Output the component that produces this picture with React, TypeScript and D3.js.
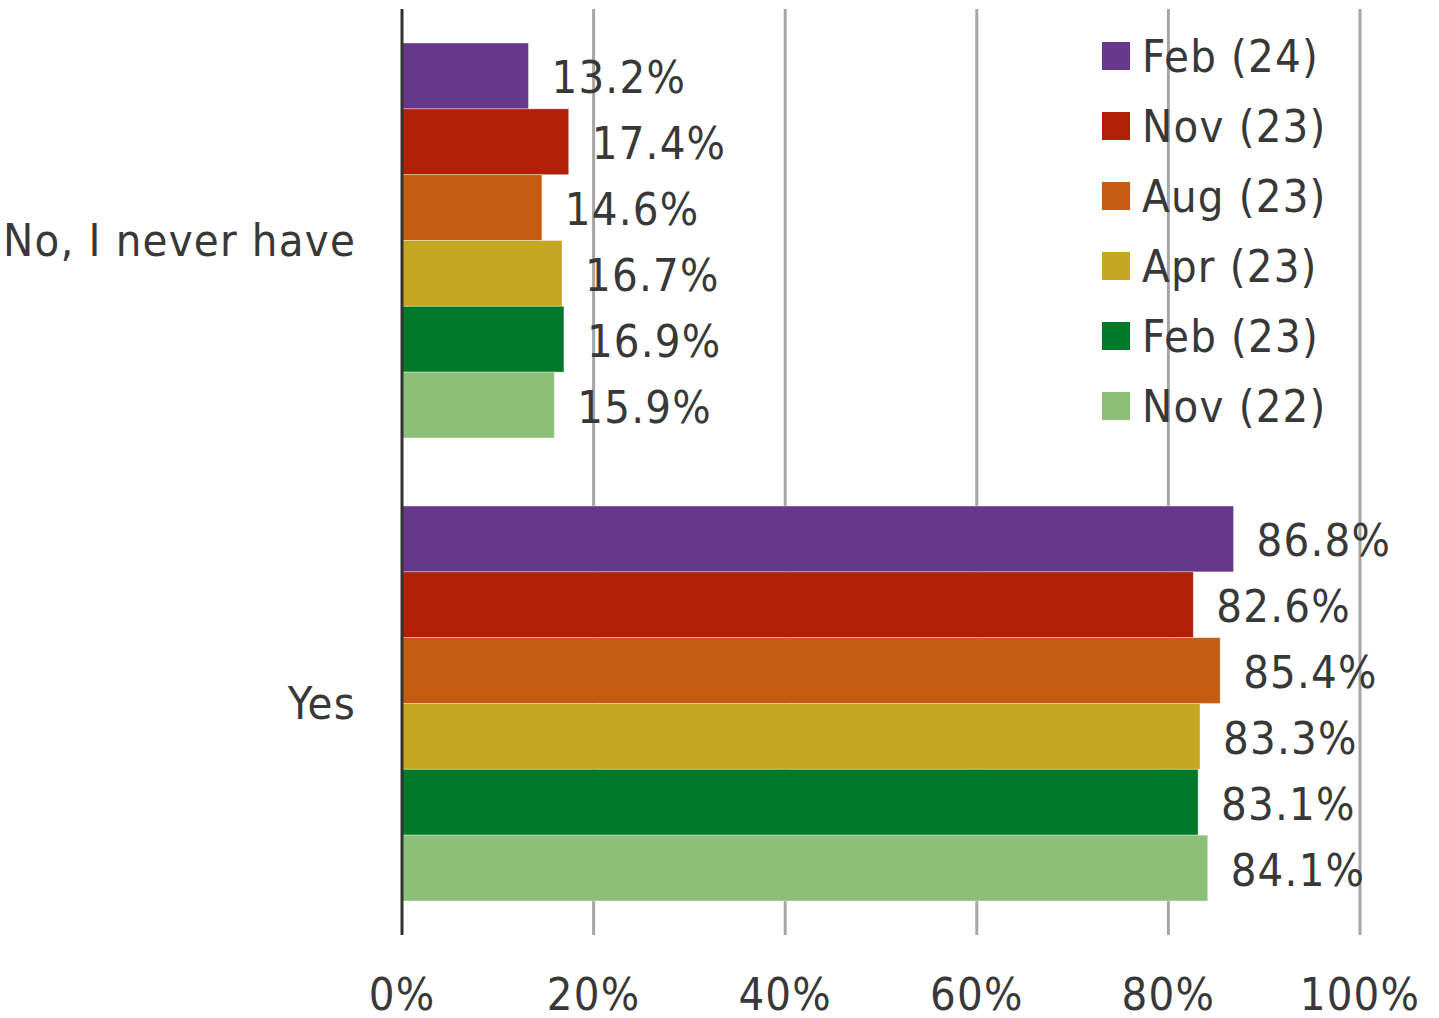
import React from "react";
import * as d3 from "d3";

const categories = ["No, I never have", "Yes"];
const seriesNames = ["Feb (24)", "Nov (23)", "Aug (23)", "Apr (23)", "Feb (23)", "Nov (22)"];
const seriesColors = ["#67378A", "#B01F06", "#C55A11", "#C4A622", "#00782A", "#8CBF78"];
const noValues = [13.2, 17.4, 14.6, 16.7, 16.9, 15.9];
const yesValues = [86.8, 82.6, 85.4, 83.3, 83.1, 84.1];
const xTicks = [0, 20, 40, 60, 80, 100];

const W = 1439;
const H = 1018;
const FONT = "'DejaVu Sans Condensed', 'DejaVu Sans', sans-serif";
const TEXT = "#383838";
const FS = 45;
const LS = 1.2;

export default function App() {
  const x = d3.scaleLinear().domain([0, 100]).range([402, 1360]);
  const y = d3
    .scaleBand<string>()
    .domain(categories)
    .range([9, 935])
    .paddingInner(0.147)
    .paddingOuter(0.0735);
  const inner = d3.scaleBand<string>().domain(seriesNames).range([0, y.bandwidth()]).padding(0);
  const valuesByCat: Record<string, number[]> = {
    [categories[0]]: noValues,
    [categories[1]]: yesValues,
  };
  const [top, bottom] = [9, 935];

  return (
    <svg
      width={W}
      height={H}
      style={{ position: "absolute", left: 0, top: 0, background: "#fff" }}
      fontFamily={FONT}
      letterSpacing={LS}
    >
      {xTicks.slice(1).map((t) => (
        <line key={t} x1={x(t)} x2={x(t)} y1={top} y2={bottom} stroke="#A6A6A6" strokeWidth={3} />
      ))}
      {categories.map((c) =>
        valuesByCat[c].map((v, i) => {
          const yy = (y(c) as number) + (inner(seriesNames[i]) as number);
          return (
            <g key={c + i}>
              <rect
                x={x(0)}
                y={yy}
                width={x(v) - x(0)}
                height={inner.bandwidth()}
                fill={seriesColors[i]}
                stroke="#ffffff"
                strokeOpacity={0.35}
                strokeWidth={1}
              />
              <text
                x={x(v) + 23}
                y={yy + inner.bandwidth() / 2 + 2}
                dominantBaseline="central"
                fontSize={FS}
                fill={TEXT}
              >
                {v.toFixed(1)}%
              </text>
            </g>
          );
        })
      )}
      <line x1={x(0)} x2={x(0)} y1={top} y2={bottom} stroke="#333" strokeWidth={3} />
      {categories.map((c) => (
        <text
          key={c}
          x={356}
          y={(y(c) as number) + y.bandwidth() / 2}
          textAnchor="end"
          dominantBaseline="central"
          fontSize={FS}
          fill={TEXT}
        >
          {c}
        </text>
      ))}
      {xTicks.map((t) => (
        <text key={t} x={x(t)} y={1010} textAnchor="middle" fontSize={FS} fill={TEXT}>
          {t}%
        </text>
      ))}
      {seriesNames.map((s, i) => (
        <g key={s} transform={`translate(1102, ${42 + i * 70})`}>
          <rect width={28} height={28} fill={seriesColors[i]} />
          <text x={40} y={14} dominantBaseline="central" fontSize={FS} fill={TEXT}>
            {s}
          </text>
        </g>
      ))}
    </svg>
  );
}
